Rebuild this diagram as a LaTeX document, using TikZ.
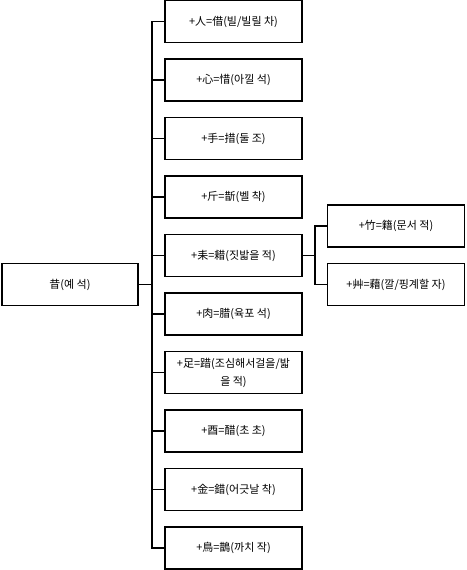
\documentclass[tikz,border=0pt]{standalone}
\usepackage{fontspec}
\setmainfont{Noto Sans CJK KR}
\usetikzlibrary{positioning}
\definecolor{ink}{HTML}{000000}
\tikzset{
  hanbox/.style={draw=ink,line width=1.6pt,minimum width=137pt,minimum height=42pt,
    inner sep=1pt,align=center,font=\fontsize{11}{18}\selectfont},
  link/.style={draw=ink,line width=1.6pt}
}
\begin{document}
\begin{tikzpicture}[x=1pt,y=-1pt]
  \useasboundingbox (0,0) rectangle (466,570);

  % Root
  \node[hanbox,minimum width=136pt] (root) at (70,284.5) {昔(예 석)};

  % Children
  \node[hanbox] (c1) at (233.5,21.5) {+人=借(빌/빌릴 차)};
  \node[hanbox] (c2) at (233.5,80) {+心=惜(아낄 석)};
  \node[hanbox] (c3) at (233.5,138.5) {+手=措(둘 조)};
  \node[hanbox] (c4) at (233.5,197) {+斤=斮(벨 착)};
  \node[hanbox] (c5) at (233.5,255.5) {+耒=耤(짓밟을 적)};
  \node[hanbox] (c6) at (233.5,314) {+肉=腊(육포 석)};
  \node[hanbox] (c7) at (233.5,372.5) {+足=踖(조심해서걸을/밟\\을 적)};
  \node[hanbox] (c8) at (233.5,431) {+酉=醋(초 초)};
  \node[hanbox] (c9) at (233.5,489.5) {+金=錯(어긋날 착)};
  \node[hanbox] (c10) at (233.5,548) {+鳥=鵲(까치 작)};

  % Grandchildren of c5
  \node[hanbox] (g1) at (396,226) {+竹=籍(문서 적)};
  \node[hanbox] (g2) at (396,284.5) {+艸=藉(깔/핑계할 자)};

  % Connectors
  \coordinate (trunk) at (152,284.5);
  \coordinate (fork) at (315,255.5);
  \draw[link] (root.east) -- (trunk);
  \foreach \c in {c1,c2,c3,c4,c5,c6,c7,c8,c9,c10}
    \draw[link] (trunk) |- (\c.west);
  \draw[link] (c5.east) -- (fork);
  \draw[link] (fork) |- (g1.west);
  \draw[link] (fork) |- (g2.west);
\end{tikzpicture}
\end{document}
